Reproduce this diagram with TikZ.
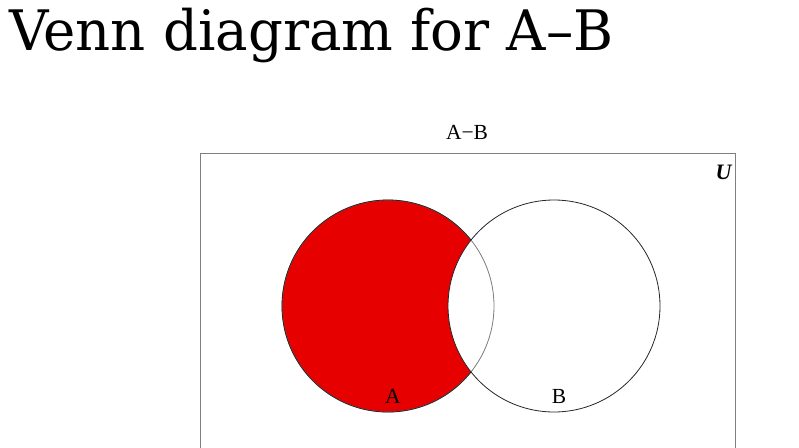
\documentclass[tikz,border=0pt]{standalone}
\usepackage{fontspec}
\setmainfont{Liberation Serif}
\newfontfamily\titlefont{DejaVu Serif}
\definecolor{setred}{RGB}{230,0,0}
\begin{document}
\begin{tikzpicture}[x=1pt, y=-1pt, every node/.style={inner sep=0pt, anchor=base}]
        \useasboundingbox (0,0) rectangle (799,447);
        \clip (0,0) rectangle (799,447);
        \coordinate (cA) at (388,306);
        \coordinate (cB) at (554,306);
        \node [anchor=base west, xscale=0.977] (title) at (9,50.7) {\titlefont\fontsize{55.8}{60}\selectfont Venn diagram for A–B};
        \draw [gray, line width=0.8pt] (200.5,153.5) rectangle (735.5,460);
        \fill [setred] (cA) circle (106pt);
        \begin{scope}
          \clip (cA) circle (106pt);
          \fill [white] (cB) circle (106pt);
        \end{scope}
        \draw [gray, line width=0.8pt] (cA) circle (106pt);
        \draw [black!85, line width=0.8pt] (cA) ++(38.5:106pt) arc [start angle=38.5, end angle=321.5, radius=106pt];
        \draw [black!85, line width=0.8pt] (cB) circle (106pt);
        \node (diff) at (467,139) {\fontsize{21.5}{24}\selectfont A−B};
        \node (labA) at (393,403) {\fontsize{21.5}{24}\selectfont A};
        \node (labB) at (559,403) {\fontsize{21.5}{24}\selectfont B};
        \node (univ) at (724,179) {\fontsize{22}{24}\selectfont\textbf{\textit{U}}};
      \end{tikzpicture}
\end{document}
